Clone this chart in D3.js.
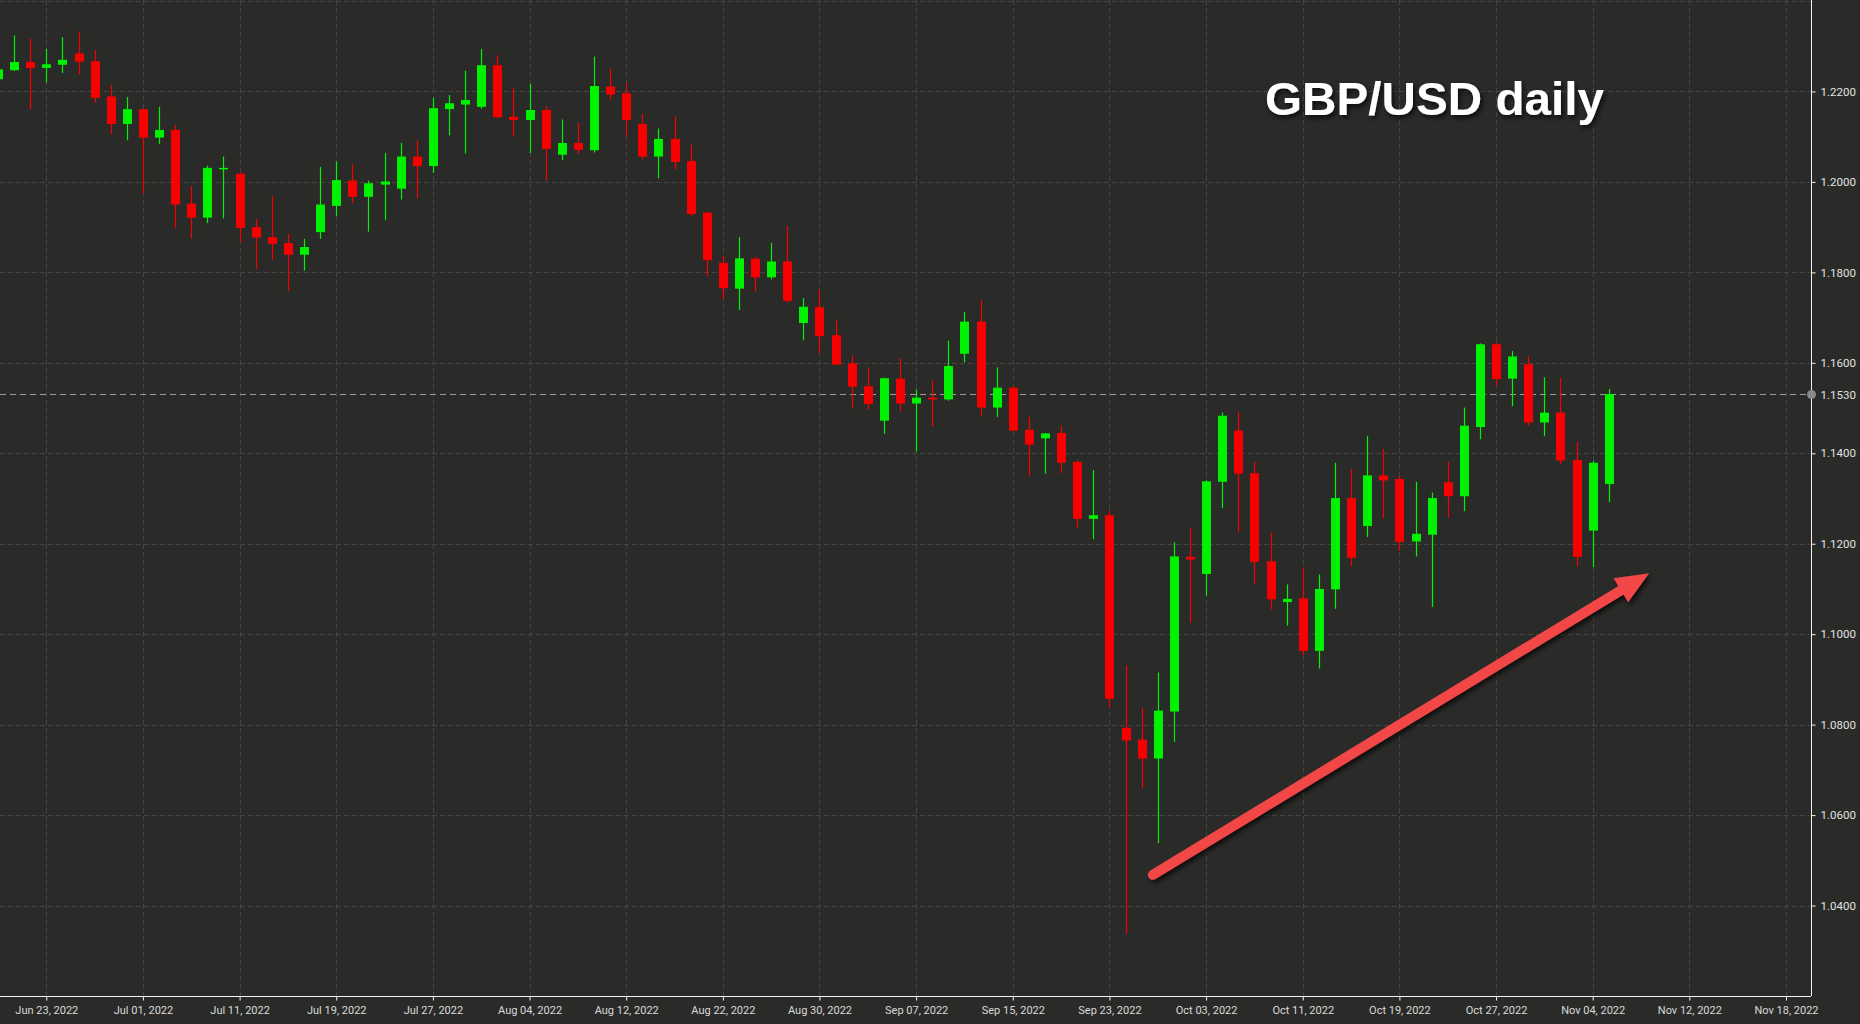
<!DOCTYPE html>
<html>
<head>
<meta charset="utf-8">
<script src="https://cdn.jsdelivr.net/npm/d3@7"></script>
<style>
  html, body { margin: 0; padding: 0; background: #2a2b29; }
  svg { display: block; }
</style>
</head>
<body>
<svg id="chart" width="1860" height="1024"></svg>
<script>
// GBP/USD daily candles, Jun 20 2022 -> Nov 07 2022 (one per trading day)
const open = [
  1.2227, 1.2247, 1.2265, 1.2252, 1.2259, 1.2284, 1.2267, 1.2189, 1.2128, 1.2161,
  1.2098, 1.2115, 1.1952, 1.1921, 1.2028, 1.2018, 1.1900, 1.1878, 1.1865, 1.1839,
  1.1889, 1.1947, 1.2003, 1.1967, 1.1994, 1.1985, 1.2056, 1.2035, 1.2161, 1.2171,
  1.2166, 1.2258, 1.2144, 1.2137, 1.2159, 1.2060, 1.2086, 1.2070, 1.2211, 1.2196,
  1.2128, 1.2056, 1.2095, 1.2046, 1.1932, 1.1821, 1.1764, 1.1830, 1.1789, 1.1824,
  1.1688, 1.1723, 1.1661, 1.1599, 1.1548, 1.1472, 1.1565, 1.1510, 1.1523, 1.1519,
  1.1620, 1.1691, 1.1501, 1.1545, 1.1452, 1.1433, 1.1445, 1.1381, 1.1255, 1.1263,
  1.0793, 1.0767, 1.0725, 1.0829, 1.1171, 1.1133, 1.1337, 1.1450, 1.1356, 1.1161,
  1.1071, 1.1079, 1.0963, 1.1099, 1.1301, 1.1239, 1.1351, 1.1343, 1.1205, 1.1220,
  1.1336, 1.1305, 1.1458, 1.1641, 1.1565, 1.1597, 1.1468, 1.1490, 1.1385, 1.1229,
  1.1332
];
const high = [
  1.2270, 1.2324, 1.2316, 1.2294, 1.2320, 1.2333, 1.2292, 1.2214, 1.2188, 1.2162,
  1.2166, 1.2126, 1.1990, 1.2036, 1.2056, 1.2021, 1.1918, 1.1968, 1.1885, 1.1874,
  1.2033, 1.2045, 1.2038, 1.2003, 1.2064, 1.2086, 1.2091, 1.2186, 1.2192, 1.2246,
  1.2294, 1.2280, 1.2207, 1.2217, 1.2168, 1.2138, 1.2131, 1.2277, 1.2251, 1.2220,
  1.2150, 1.2118, 1.2146, 1.2082, 1.1934, 1.1837, 1.1878, 1.1835, 1.1865, 1.1902,
  1.1743, 1.1761, 1.1696, 1.1617, 1.1590, 1.1567, 1.1610, 1.1541, 1.1561, 1.1649,
  1.1712, 1.1739, 1.1590, 1.1548, 1.1480, 1.1444, 1.1461, 1.1384, 1.1363, 1.1273,
  1.0931, 1.0837, 1.0915, 1.1203, 1.1235, 1.1340, 1.1490, 1.1492, 1.1382, 1.1224,
  1.1110, 1.1148, 1.1132, 1.1379, 1.1365, 1.1438, 1.1409, 1.1350, 1.1337, 1.1313,
  1.1382, 1.1501, 1.1643, 1.1646, 1.1626, 1.1615, 1.1568, 1.1567, 1.1424, 1.1383,
  1.1542
];
const low = [
  1.2212, 1.2245, 1.2161, 1.2220, 1.2241, 1.2237, 1.2175, 1.2105, 1.2092, 1.1975,
  1.2084, 1.1897, 1.1875, 1.1909, 1.1919, 1.1866, 1.1807, 1.1827, 1.1759, 1.1804,
  1.1874, 1.1925, 1.1953, 1.1890, 1.1916, 1.1961, 1.1964, 1.2020, 1.2103, 1.2063,
  1.2162, 1.2141, 1.2100, 1.2064, 1.2003, 1.2048, 1.2062, 1.2065, 1.2182, 1.2100,
  1.2050, 1.2008, 1.2028, 1.1924, 1.1792, 1.1741, 1.1717, 1.1756, 1.1784, 1.1733,
  1.1650, 1.1622, 1.1595, 1.1499, 1.1496, 1.1443, 1.1493, 1.1404, 1.1459, 1.1516,
  1.1601, 1.1481, 1.1480, 1.1449, 1.1349, 1.1355, 1.1356, 1.1236, 1.1210, 1.0839,
  1.0339, 1.0659, 1.0538, 1.0762, 1.1025, 1.1085, 1.1279, 1.1225, 1.1112, 1.1055,
  1.1019, 1.0953, 1.0924, 1.1056, 1.1151, 1.1215, 1.1256, 1.1185, 1.1172, 1.1060,
  1.1258, 1.1272, 1.1431, 1.1549, 1.1504, 1.1461, 1.1438, 1.1376, 1.1151, 1.1148,
  1.1292
];
const close = [
  1.2249, 1.2265, 1.2252, 1.2260, 1.2270, 1.2266, 1.2186, 1.2128, 1.2161, 1.2098,
  1.2115, 1.1950, 1.1921, 1.2031, 1.2031, 1.1898, 1.1877, 1.1863, 1.1839, 1.1856,
  1.1950, 1.2004, 1.1967, 1.1997, 1.2001, 1.2056, 1.2035, 1.2163, 1.2174, 1.2181,
  1.2258, 1.2143, 1.2137, 1.2159, 1.2073, 1.2086, 1.2071, 1.2212, 1.2193, 1.2137,
  1.2056, 1.2095, 1.2044, 1.1929, 1.1827, 1.1765, 1.1831, 1.1789, 1.1824, 1.1737,
  1.1724, 1.1659, 1.1596, 1.1547, 1.1509, 1.1566, 1.1510, 1.1523, 1.1519, 1.1593,
  1.1691, 1.1501, 1.1545, 1.1450, 1.1419, 1.1444, 1.1379, 1.1255, 1.1263, 1.0857,
  1.0765, 1.0725, 1.0831, 1.1172, 1.1165, 1.1338, 1.1483, 1.1355, 1.1160, 1.1077,
  1.1078, 1.0963, 1.1100, 1.1301, 1.1169, 1.1351, 1.1340, 1.1204, 1.1222, 1.1301,
  1.1305, 1.1461, 1.1641, 1.1564, 1.1614, 1.1468, 1.1490, 1.1384, 1.1171, 1.1379,
  1.1531
];

// date labels, one every 6 trading days starting at the 4th candle
const tickLabels = [
  "Jun 23, 2022", "Jul 01, 2022", "Jul 11, 2022", "Jul 19, 2022", "Jul 27, 2022",
  "Aug 04, 2022", "Aug 12, 2022", "Aug 22, 2022", "Aug 30, 2022", "Sep 07, 2022",
  "Sep 15, 2022", "Sep 23, 2022", "Oct 03, 2022", "Oct 11, 2022", "Oct 19, 2022",
  "Oct 27, 2022", "Nov 04, 2022", "Nov 12, 2022", "Nov 18, 2022"
];
const priceTicks = [1.04, 1.06, 1.08, 1.10, 1.12, 1.14, 1.16, 1.18, 1.20, 1.22];
const gridPrices = [1.04, 1.06, 1.08, 1.10, 1.12, 1.14, 1.16, 1.18, 1.20, 1.22, 1.24];
const lastPrice = 1.1530;

// annotation arrow in (candle index, price)
const arrowFrom = [71.7, 1.0468];
const arrowTo = [102.5, 1.1135];

const W = 1860, H = 1024;
const axisX = 1811, axisY = 996;
const UP = "#00f200", DOWN = "#f60000";
const GRID = "#444543";
const FONT = "Roboto, 'Noto Sans', sans-serif";

const svg = d3.select("#chart");

const defs = svg.append("defs");
const shadow = defs.append("filter").attr("id", "shadow")
  .attr("x", "-20%").attr("y", "-20%").attr("width", "140%").attr("height", "160%");
shadow.append("feDropShadow")
  .attr("dx", 2).attr("dy", 3).attr("stdDeviation", 2.5)
  .attr("flood-color", "#000").attr("flood-opacity", 0.75);

// scales: index -> x, price -> y
const x = d3.scaleLinear().domain([3, 111]).range([46.3, 1786]);
const y = d3.scaleLinear().domain([1.02, 1.24]).range([axisY, 1]);

const tickIdx = tickLabels.map((d, i) => 3 + i * 6);

// background
svg.append("rect").attr("width", W).attr("height", H).attr("fill", "#2a2b29");

// grid
const grid = svg.append("g").attr("stroke", GRID).attr("stroke-width", 1)
  .attr("stroke-dasharray", "5,3");
grid.selectAll(".vg").data(tickIdx).join("line")
  .attr("x1", (d) => Math.round(x(d)) + 0.5).attr("x2", (d) => Math.round(x(d)) + 0.5)
  .attr("y1", 0).attr("y2", axisY);
grid.selectAll(".hg").data(gridPrices).join("line")
  .attr("x1", 0).attr("x2", axisX)
  .attr("y1", (d) => Math.round(y(d)) + 0.5).attr("y2", (d) => Math.round(y(d)) + 0.5);

// last price line
svg.append("line")
  .attr("x1", 0).attr("x2", axisX)
  .attr("y1", Math.round(y(lastPrice)) + 0.5).attr("y2", Math.round(y(lastPrice)) + 0.5)
  .attr("stroke", "#9c9c9c").attr("stroke-dasharray", "6,4");

// candles
const candles = d3.range(open.length).map((i) => ({
  i, o: open[i], h: high[i], l: low[i], c: close[i]
}));
const cg = svg.append("g");
const bodyW = 9;
const candle = cg.selectAll(".candle").data(candles).join("g");
candle.append("line")
  .attr("x1", (d) => Math.round(x(d.i)) + 0.5)
  .attr("x2", (d) => Math.round(x(d.i)) + 0.5)
  .attr("y1", (d) => y(d.h)).attr("y2", (d) => y(d.l))
  .attr("stroke", (d) => (d.c >= d.o ? UP : DOWN)).attr("stroke-width", 1.2);
candle.append("rect")
  .attr("x", (d) => Math.round(x(d.i)) + 0.5 - bodyW / 2)
  .attr("width", bodyW)
  .attr("y", (d) => y(Math.max(d.o, d.c)))
  .attr("height", (d) => Math.max(1.5, Math.abs(y(d.o) - y(d.c))))
  .attr("fill", (d) => (d.c >= d.o ? UP : DOWN));

// bottom axis
const xAxis = d3.axisBottom(x).tickValues(tickIdx)
  .tickFormat((d, i) => tickLabels[i]).tickSize(4).tickPadding(6);
const gx = svg.append("g").attr("transform", `translate(0,${axisY + 0.5})`).call(xAxis);
gx.select(".domain").attr("d", `M0,0H${axisX}`).attr("stroke", "#f2f2f2");
gx.selectAll(".tick line").attr("stroke", "#f2f2f2");
gx.selectAll(".tick text").attr("fill", "#d9d9d9")
  .style("font-family", FONT).style("font-size", "11px");

// right axis
const yAxis = d3.axisRight(y).tickValues(priceTicks.concat([lastPrice]))
  .tickFormat(d3.format(".4f")).tickSize(4).tickPadding(5);
const gy = svg.append("g").attr("transform", `translate(${axisX + 0.5},0)`).call(yAxis);
gy.select(".domain").attr("d", `M0,0V${axisY}`).attr("stroke", "#f2f2f2");
gy.selectAll(".tick line").attr("stroke", "#f2f2f2");
gy.selectAll(".tick text").attr("fill", "#e2e2e2")
  .style("font-family", FONT).style("font-size", "11.5px");

svg.append("circle")
  .attr("cx", axisX + 0.5).attr("cy", y(lastPrice)).attr("r", 4.5)
  .attr("fill", "#8a8a8a");

// title
svg.append("text")
  .attr("x", 1265).attr("y", 115)
  .attr("textLength", 339).attr("lengthAdjust", "spacingAndGlyphs")
  .attr("fill", "#ffffff")
  .attr("filter", "url(#shadow)")
  .style("font-family", "'Liberation Sans', Arial, sans-serif")
  .style("font-weight", "bold").style("font-size", "47px")
  .text("GBP/USD daily");

// arrow
const ax0 = x(arrowFrom[0]), ay0 = y(arrowFrom[1]);
const ax1 = x(arrowTo[0]), ay1 = y(arrowTo[1]);
const len = Math.hypot(ax1 - ax0, ay1 - ay0);
const ux = (ax1 - ax0) / len, uy = (ay1 - ay0) / len;
const headLen = 33, headHalf = 14;
const bx = ax1 - ux * headLen, by = ay1 - uy * headLen;
const arrowG = svg.append("g").attr("filter", "url(#shadow)");
const ARROW = "#f24646";
arrowG.append("line")
  .attr("x1", ax0).attr("y1", ay0)
  .attr("x2", bx + ux * 4).attr("y2", by + uy * 4)
  .attr("stroke", ARROW).attr("stroke-width", 10).attr("stroke-linecap", "round");
arrowG.append("path")
  .attr("d", `M${ax1},${ay1}L${bx - uy * headHalf},${by + ux * headHalf}L${bx + uy * headHalf},${by - ux * headHalf}Z`)
  .attr("fill", ARROW);
</script>
</body>
</html>
